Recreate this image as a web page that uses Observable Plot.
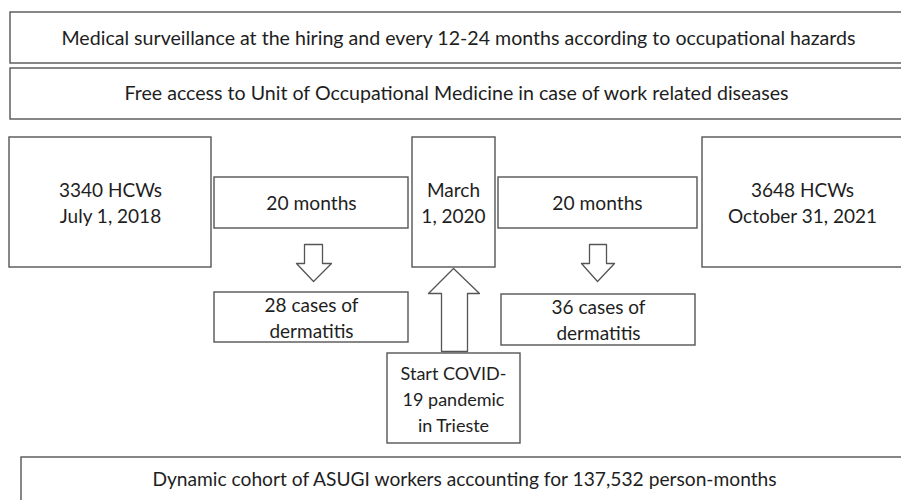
<!DOCTYPE html>
<html>
<head>
<meta charset="utf-8">
<script src="https://cdn.jsdelivr.net/npm/d3@7"></script>
<script src="https://cdn.jsdelivr.net/npm/@observablehq/plot@0.6"></script>
<style>
  html, body { margin: 0; padding: 0; background: #fff; overflow: hidden; }
  #chart svg { display: block; }
</style>
</head>
<body>
<div id="chart"></div>
<script>
// Box labels (diagram content)
const boxLabels = [
  "Medical surveillance at the hiring and every 12-24 months according to occupational hazards",
  "Free access to Unit of Occupational Medicine in case of work related diseases",
  "3340 HCWs\nJuly 1, 2018",
  "20 months",
  "March\n1, 2020",
  "20 months",
  "3648 HCWs\nOctober 31, 2021",
  "28 cases of\ndermatitis",
  "36 cases of\ndermatitis",
  "Start COVID-\n19 pandemic\nin Trieste",
  "Dynamic cohort of ASUGI workers accounting for 137,532 person-months"
];
// Box layout (diagram coordinates, 0..901 x 0..500)
const boxX1 = [10, 10, 9, 214, 412, 498, 702, 214, 501, 387, 21];
const boxX2 = [903, 903, 211, 408, 495, 697, 903, 408, 695, 520, 903];
const boxY1 = [12, 68, 137, 177, 137, 177, 137, 292, 294, 353, 457];
const boxY2 = [63, 119, 267, 228, 267, 228, 267, 342, 345, 443, 503];
const labelX = [458, 456, 110, 311, 453, 597, 802, 311, 598, 453, 464];
const labelY = [36, 91, 201, 201, 201, 201, 201, 316, 318, 397, 477];
const labelSize = [19.6, 19.6, 19, 19.2, 19, 19.2, 19, 19, 19, 18, 19.2];

// Block arrows (outline vertices)
const arrowIds = ["down1", "down2", "up"];
const arrowXs = [
  [304, 322, 322, 331, 313, 296, 304, 304],
  [589, 606, 606, 614, 597, 581, 589, 589],
  [441, 467, 467, 479, 453, 428, 441, 441]
];
const arrowYs = [
  [244, 244, 263, 263, 281, 263, 263, 244],
  [244, 244, 263, 263, 281, 263, 263, 244],
  [351, 351, 293, 293, 268, 293, 293, 351]
];

const boxes = boxLabels.map((label, i) => ({
  label, x1: boxX1[i], x2: boxX2[i], y1: boxY1[i], y2: boxY2[i], lx: labelX[i], ly: labelY[i], size: labelSize[i]
}));
const arrowPts = arrowIds.flatMap((id, i) => arrowXs[i].map((x, j) => ({id, x, y: arrowYs[i][j]})));

const stroke = "#555";
const textMarks = d3.groups(boxes, d => d.size).map(([size, rows]) =>
  Plot.text(rows, {x: "lx", y: "ly", text: "label", fontSize: size, lineHeight: 26 / size, fill: "#1e1e1e", textAnchor: "middle"})
);
const chart = Plot.plot({
  width: 901,
  height: 500,
  margin: 0,
  x: {domain: [0, 901], axis: null},
  y: {domain: [0, 500], reverse: true, axis: null},
  style: {fontFamily: "Lato, 'Open Sans', sans-serif", background: "#fff"},
  marks: [
    Plot.rect(boxes, {x1: "x1", x2: "x2", y1: "y1", y2: "y2", fill: "white", stroke, strokeWidth: 1.4}),
    Plot.line(arrowPts, {x: "x", y: "y", z: "id", fill: "white", stroke, strokeWidth: 1.3, curve: "linear"}),
    ...textMarks
  ]
});
document.getElementById("chart").append(chart);
</script>
</body>
</html>
